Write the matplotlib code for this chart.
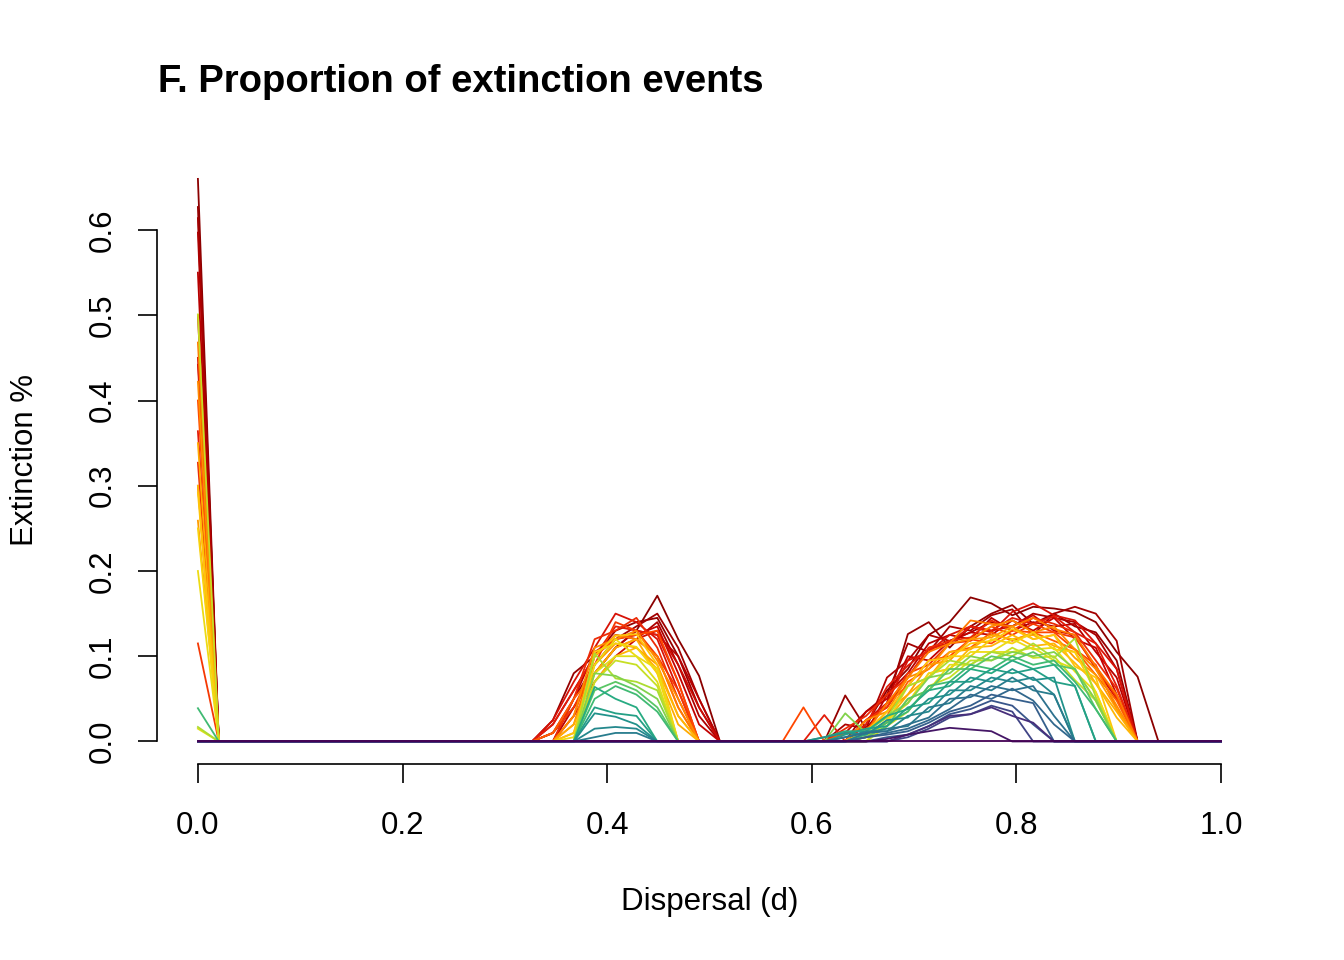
import numpy as np
import matplotlib

matplotlib.use("Agg")
import matplotlib.pyplot as plt
from matplotlib.colors import LinearSegmentedColormap

plt.rcParams["font.family"] = ["Liberation Sans", "DejaVu Sans"]

# dispersal grid (50 values from 0 to 1)
dispersal = np.linspace(0, 1, 50)

# lines listed in drawing order: dark red first ... purple last
# value at d = 0
spike = [
    0.660, 0.627, 0.614, 0.597, 0.550, 0.500, 0.450,   # dark red
    0.442, 0.364, 0.327, 0.115, 0.400, 0.300,          # red
    0.468, 0.422, 0.259, 0.350, 0.300,                 # orange
    0.292, 0.250, 0.200, 0.015, 0.501,                 # yellow
    0.017, 0.000, 0.000, 0.039,                        # green
    0, 0, 0, 0, 0,                                     # teal
    0, 0, 0, 0, 0,                                     # blue
    0, 0, 0,                                           # purple
]

# first hump, grid points 16..25
hump_a = [
    [0, .010, .040, .080, .110, .130, .171, .120, .077, 0],
    [0, .025, .080, .100, .130, .140, .145, .100, .040, 0],
    [0, 0, .050, .090, .120, .135, .150, .110, .050, 0],
    [0, .020, .060, .100, .125, .120, .140, .090, .030, 0],
    [0, 0, .040, .080, .110, .130, .125, .100, .050, 0],
    [0, .010, .050, .105, .120, .125, .135, .080, .020, 0],
    [0, 0, .030, .070, .100, .120, .130, .090, .040, 0],
    [0, .025, .070, .110, .150, .140, .120, .060, 0, 0],
    [0, .020, .060, .100, .135, .130, .125, .070, 0, 0],
    [0, 0, .050, .120, .130, .145, .110, .050, 0, 0],
    [0, .010, .040, .090, .140, .130, .100, .060, 0, 0],
    [0, 0, .030, .100, .120, .125, .130, .070, 0, 0],
    [0, .010, .050, .080, .110, .120, .100, .040, 0, 0],
    [0, 0, .020, .100, .125, .120, .100, .040, 0, 0],
    [0, 0, .030, .110, .120, .130, .095, .050, 0, 0],
    [0, 0, .010, .090, .115, .110, .090, .030, 0, 0],
    [0, 0, .020, .080, .110, .120, .080, .020, 0, 0],
    [0, 0, 0, .070, .100, .110, .085, .030, 0, 0],
    [0, 0, .010, .100, .124, .126, .090, 0, 0, 0],
    [0, 0, 0, .105, .115, .111, .080, 0, 0, 0],
    [0, 0, .005, .090, .120, .100, .085, 0, 0, 0],
    [0, 0, 0, .080, .100, .100, .070, 0, 0, 0],
    [0, 0, 0, .070, .095, .090, .065, 0, 0, 0],
    [0, 0, 0, .103, .074, .070, .060, 0, 0, 0],
    [0, 0, 0, .080, .077, .065, .050, 0, 0, 0],
    [0, 0, 0, .060, .070, .060, .040, 0, 0, 0],
    [0, 0, 0, .050, .065, .055, .035, 0, 0, 0],
    [0, 0, 0, .064, .050, .040, 0, 0, 0, 0],
    [0, 0, 0, .040, .033, .030, 0, 0, 0, 0],
    [0, 0, 0, .033, .029, .020, 0, 0, 0, 0],
    [0, 0, 0, .015, .017, .015, 0, 0, 0, 0],
    [0, 0, 0, .005, .010, .010, 0, 0, 0, 0],
    [0] * 10, [0] * 10, [0] * 10, [0] * 10, [0] * 10,
    [0] * 10, [0] * 10, [0] * 10,
]

# second hump, grid points 28..46
hump_b = [
    [0, 0, 0, 0, .020, .060, .085, .125, .140, .169, .162, .148, .158, .156, .152, .140, .105, .076, 0],
    [0, 0, 0, .054, .015, .045, .126, .140, .110, .135, .150, .160, .138, .150, .135, .128, .095, 0, 0],
    [0, 0, 0, 0, .035, .055, .115, .105, .135, .130, .148, .155, .125, .150, .158, .150, .118, 0, 0],
    [0, 0, 0, .020, .015, .075, .095, .125, .118, .128, .140, .135, .150, .145, .140, .125, .085, 0, 0],
    [0, 0, 0, 0, .010, .055, .080, .115, .125, .120, .145, .130, .140, .135, .138, .105, .075, 0, 0],
    [0, 0, 0, .010, .035, .050, .100, .095, .118, .128, .125, .142, .130, .145, .120, .110, .055, 0, 0],
    [0, 0, 0, 0, .025, .040, .075, .110, .115, .135, .130, .135, .148, .130, .125, .085, .050, 0, 0],
    [0, 0, 0, 0, .025, .045, .095, .105, .125, .135, .128, .152, .162, .148, .142, .115, .085, 0, 0],
    [0, 0, .031, 0, .020, .064, .089, .108, .115, .135, .130, .145, .138, .147, .128, .115, .065, 0, 0],
    [0, 0, 0, .015, .030, .055, .075, .110, .118, .122, .142, .130, .145, .138, .128, .095, .062, 0, 0],
    [0, 0, 0, 0, .025, .040, .080, .090, .115, .118, .135, .125, .138, .128, .122, .088, .052, 0, 0],
    [0, .040, 0, 0, .012, .045, .065, .095, .100, .120, .115, .130, .128, .128, .108, .090, .038, 0, 0],
    [0, 0, 0, .010, .015, .030, .070, .085, .105, .110, .128, .118, .128, .118, .108, .078, .048, 0, 0],
    [0, 0, 0, 0, .010, .045, .075, .105, .115, .142, .138, .135, .145, .132, .125, .088, .055, 0, 0],
    [0, 0, 0, 0, .025, .035, .075, .085, .115, .120, .135, .142, .128, .135, .108, .085, .042, 0, 0],
    [0, 0, 0, 0, .010, .035, .055, .090, .095, .120, .122, .135, .120, .125, .098, .078, .038, 0, 0],
    [0, 0, 0, 0, .005, .025, .055, .075, .105, .108, .125, .120, .125, .112, .105, .068, .035, 0, 0],
    [0, 0, 0, 0, 0, .025, .045, .080, .085, .110, .112, .125, .112, .115, .092, .068, .028, 0, 0],
    [0, 0, 0, 0, .012, .035, .065, .095, .098, .115, .118, .132, .120, .125, .088, .075, 0, 0, 0],
    [0, 0, 0, 0, .005, .022, .065, .075, .100, .100, .120, .115, .128, .108, .105, .058, 0, 0, 0],
    [0, 0, 0, 0, 0, .025, .045, .080, .085, .105, .105, .120, .108, .110, .082, .058, 0, 0, 0],
    [0, 0, 0, 0, .005, .018, .050, .060, .090, .090, .105, .105, .110, .095, .085, .048, 0, 0, 0],
    [0, 0, 0, 0, 0, .018, .035, .065, .075, .095, .095, .110, .098, .100, .072, .048, 0, 0, 0],
    [0, 0, 0, 0, .012, .028, .065, .075, .095, .090, .105, .100, .115, .098, .121, .052, 0, 0, 0],
    [0, 0, 0, .033, .010, .030, .045, .075, .080, .100, .095, .105, .100, .105, .085, .048, 0, 0, 0],
    [0, 0, 0, 0, .005, .018, .050, .060, .085, .085, .100, .095, .105, .090, .085, .038, 0, 0, 0],
    [0, 0, 0, 0, .008, .022, .035, .065, .070, .090, .085, .100, .090, .095, .070, .038, 0, 0, 0],
    [0, 0, .005, .012, .012, .030, .038, .060, .065, .085, .080, .095, .085, .090, .065, 0, 0, 0, 0],
    [0, 0, 0, .008, .015, .018, .040, .045, .070, .070, .085, .080, .085, .070, .065, 0, 0, 0, 0],
    [0, 0, .005, .010, .008, .025, .028, .050, .055, .075, .070, .085, .072, .075, 0, 0, 0, 0, 0],
    [0, 0, 0, .005, .012, .012, .030, .035, .060, .060, .075, .070, .075, .055, 0, 0, 0, 0, 0],
    [0, 0, 0, 0, .010, .015, .018, .040, .045, .065, .060, .075, .060, .055, 0, 0, 0, 0, 0],
    [0, 0, 0, .005, .010, .012, .020, .028, .050, .052, .065, .060, .065, .030, 0, 0, 0, 0, 0],
    [0, 0, 0, 0, .005, .010, .015, .025, .038, .055, .050, .062, .048, .020, 0, 0, 0, 0, 0],
    [0, 0, 0, 0, .005, .008, .012, .022, .035, .042, .055, .050, .045, 0, 0, 0, 0, 0, 0],
    [0, 0, 0, 0, 0, .005, .008, .018, .032, .038, .048, .042, .020, 0, 0, 0, 0, 0, 0],
    [0, 0, 0, 0, 0, 0, .005, .015, .028, .032, .042, .035, 0, 0, 0, 0, 0, 0, 0],
    [0, 0, 0, 0, 0, 0, .008, .018, .030, .032, .040, .030, .022, 0, 0, 0, 0, 0, 0],
    [0, 0, 0, 0, 0, .003, .008, .012, .016, .014, .012, 0, 0, 0, 0, 0, 0, 0, 0],
    [0] * 19,
]

# purple -> blue -> teal -> green -> yellow -> orange -> red -> dark red
palette = LinearSegmentedColormap.from_list(
    "ext",
    [
        (0.00, "#440154"), (0.05, "#472D7B"), (0.09, "#3B528B"),
        (0.18, "#2C728E"), (0.25, "#21908C"), (0.31, "#27AD81"),
        (0.36, "#5DC863"), (0.41, "#AADC32"), (0.45, "#D8E01C"),
        (0.50, "#F5D90F"), (0.54, "#FFC20A"), (0.60, "#FFA500"),
        (0.66, "#FF7F00"), (0.72, "#FF4500"), (0.80, "#E01A0A"),
        (0.88, "#C00000"), (1.00, "#8B0000"),
    ],
)

fig = plt.figure(figsize=(13.44, 9.6), dpi=100)
ax = fig.add_axes([0.1168, 0.2042, 0.8222, 0.6329])

n = len(spike)
for i in range(n):
    y = np.zeros(len(dispersal))
    y[0] = spike[i]
    y[16:26] = hump_a[i]
    y[28:47] = hump_b[i]
    ax.plot(dispersal, y, color=palette(1 - i / (n - 1)), lw=1.3)

ax.set_xlim(-0.04, 1.04)
ax.set_ylim(-0.0264, 0.6864)
for s in ("top", "right"):
    ax.spines[s].set_visible(False)
ax.spines["bottom"].set_bounds(0, 1)
ax.spines["left"].set_bounds(0, 0.6)
for s in ("bottom", "left"):
    ax.spines[s].set_linewidth(1.2)

ax.set_xticks([0, 0.2, 0.4, 0.6, 0.8, 1.0])
ax.set_xticklabels(["0.0", "0.2", "0.4", "0.6", "0.8", "1.0"])
ax.set_yticks([0, 0.1, 0.2, 0.3, 0.4, 0.5, 0.6])
ax.set_yticklabels(["0.0", "0.1", "0.2", "0.3", "0.4", "0.5", "0.6"],
                   rotation=90, va="center")
ax.tick_params(axis="both", length=13.5, width=1.2, labelsize=22.5)
ax.tick_params(axis="x", pad=20.5)
ax.tick_params(axis="y", pad=15)

fig.text(709.5 / 1344, 1 - 902 / 960, "Dispersal (d)", ha="center",
         va="center", fontsize=22.5)
fig.text(25 / 1344, 1 - 460 / 960, "Extinction %", ha="center",
         va="center", rotation=90, fontsize=22.5)
fig.text(158 / 1344, 1 - 92 / 960, "F. Proportion of extinction events",
         ha="left", va="baseline", fontsize=27.5, fontweight="bold")

fig.savefig("out.png", dpi=100)
